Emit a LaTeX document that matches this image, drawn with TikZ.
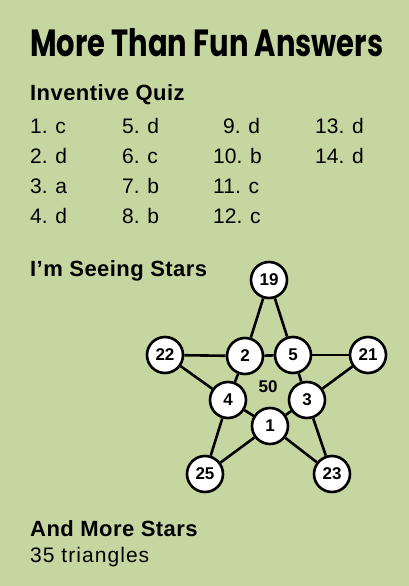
\documentclass[tikz,border=0pt]{standalone}
\usepackage{fontspec}
\setmainfont{Liberation Sans}
\newfontfamily\titlefont{Poppins}
\newfontfamily\widefont[LetterSpace=5]{Liberation Sans}
\newfontfamily\headfont[LetterSpace=2]{Liberation Sans}
\definecolor{panel}{RGB}{198,214,160}
\begin{document}
\begin{tikzpicture}[x=1pt,y=-1pt,
  txt/.style={anchor=base west,inner sep=0pt,font=\fontsize{21}{21}\selectfont},
  head/.style={anchor=base west,inner sep=0pt,font=\headfont\fontsize{22}{22}\selectfont\bfseries},
  ball/.style={circle,draw=black,fill=white,line width=2.6pt,minimum size=36pt,inner sep=0pt,font=\fontsize{17}{17}\selectfont\bfseries},
  link/.style={line width=2.6pt}]
\fill[panel] (0,0) rectangle (409,586);
\useasboundingbox (0,0) rectangle (409,586);
\node (title) at (30,57) [anchor=south west,inner sep=0pt] {\resizebox{353pt}{28pt}{\titlefont\bfseries More Than Fun Answers}};
\node (quiz) [head] at (30,100) {Inventive Quiz};
\node (q1) [txt] at (30,133) {1. c};
\node (q2) [txt] at (30,163) {2. d};
\node (q3) [txt] at (30,193) {3. a};
\node (q4) [txt] at (30,223) {4. d};
\node (q5) [txt] at (122,133) {5. d};
\node (q6) [txt] at (122,163) {6. c};
\node (q7) [txt] at (122,193) {7. b};
\node (q8) [txt] at (122,223) {8. b};
\node (q9) [txt] at (223,133) {9. d};
\node (q10) [txt] at (213,163) {10. b};
\node (q11) [txt] at (213,193) {11. c};
\node (q12) [txt] at (213,223) {12. c};
\node (q13) [txt] at (315,133) {13. d};
\node (q14) [txt] at (315,163) {14. d};
\node (stars) [head] at (30,276) {I’m Seeing Stars};
\node (more) [head] at (30,536) {And More Stars};
\node (tri) [txt,font=\widefont\fontsize{21}{21}\selectfont] at (30,562) {35 triangles};
\node (n19) [ball] at (269,280) {19};
\node (n22) [ball] at (165,355) {22};
\node (n2) [ball] at (245,356) {2};
\node (n5) [ball] at (293,355) {5};
\node (n21) [ball] at (368,355) {21};
\node (n4) [ball] at (228,400) {4};
\node (n3) [ball] at (307,400) {3};
\node (n1) [ball] at (270,426) {1};
\node (n25) [ball] at (205,474) {25};
\node (n23) [ball] at (332,474) {23};
\node (sum) at (268,387) [font=\fontsize{17}{17}\selectfont\bfseries,inner sep=0pt] {50};
\draw[link] (n19) -- (n2);
\draw[link] (n19) -- (n5);
\draw[link] (n22) -- (n2);
\draw[link] (n2) -- (n5);
\draw[link] (n5) -- (n21);
\draw[link] (n22) -- (n4);
\draw[link] (n2) -- (n4);
\draw[link] (n5) -- (n3);
\draw[link] (n21) -- (n3);
\draw[link] (n4) -- (n1);
\draw[link] (n3) -- (n1);
\draw[link] (n4) -- (n25);
\draw[link] (n25) -- (n1);
\draw[link] (n1) -- (n23);
\draw[link] (n3) -- (n23);
\end{tikzpicture}
\end{document}
